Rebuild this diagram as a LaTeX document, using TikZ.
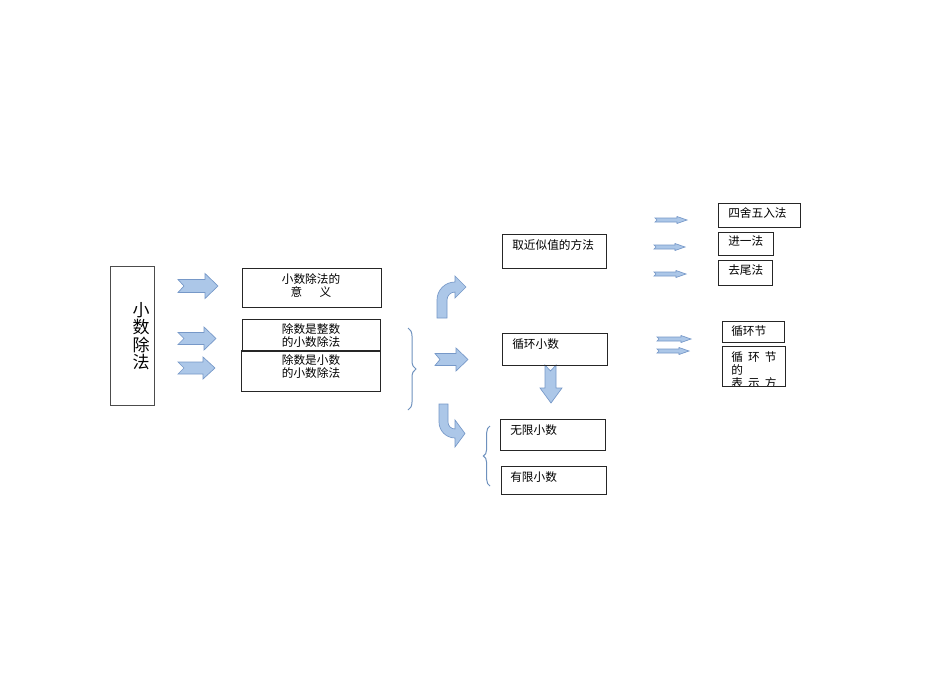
\documentclass[tikz,border=0pt]{standalone}
\usepackage{fontspec}
\setmainfont{Noto Sans CJK SC}
\usetikzlibrary{decorations.pathreplacing}
\definecolor{arfill}{RGB}{172,199,232}
\definecolor{ardraw}{RGB}{118,152,200}
\definecolor{brcol}{RGB}{110,145,190}
\newcommand{\barr}[7]{% x0, yc, L, h, H, a, n
  \filldraw[blockarrow] (#1,{#2-#4}) -- ({#1+#3-#6},{#2-#4}) -- ({#1+#3-#6},{#2-#5}) -- ({#1+#3},#2) -- ({#1+#3-#6},{#2+#5}) -- ({#1+#3-#6},{#2+#4}) -- (#1,{#2+#4}) -- ({#1+#7},#2) -- cycle;}
\begin{document}
\begin{tikzpicture}[x=0.75pt,y=-0.75pt,
  box/.style={draw=black!85, line width=0.75pt, inner sep=0pt, anchor=north west},
  txt/.style={font=\fontsize{8.75pt}{9.75pt}\selectfont, align=center, inner sep=0pt},
  ltxt/.style={font=\fontsize{8.75pt}{9.75pt}\selectfont, anchor=west, inner sep=0pt},
  blockarrow/.style={fill=arfill, draw=ardraw, line width=0.5pt, line join=miter},
  bracestyle/.style={draw=brcol, line width=0.75pt}]
\useasboundingbox (0,0) rectangle (950,672);
\fill[white] (0,0) rectangle (950,672);

% left column
\node[box, draw=black!70, minimum width=33pt, minimum height=104.25pt] (main) at (110,266) {};
\node[font=\fontsize{12.75pt}{13pt}\selectfont, align=center, inner sep=0pt] (maintxt) at (141,336) {小\\数\\除\\法};

\barr{178}{286}{40}{6.5}{12.5}{13}{6}
\barr{178}{338.5}{38}{6}{11.5}{12}{6}
\barr{178}{368}{37}{6}{11}{12}{6}

\node[box, minimum width=104.25pt, minimum height=29.25pt] (b1) at (242,268) {};
\node[txt] (b1t) at (311,285.5) {小数除法的\\意\hspace{1.5em}义};
\node[box, minimum width=103.5pt, minimum height=24pt] (b2) at (242,319) {};
\node[txt] (b2t) at (311,335.5) {除数是整数\\的小数除法};
\node[box, minimum width=104.25pt, minimum height=30.75pt] (b3) at (241,350) {};
\node[txt] (b3t) at (311,367) {除数是小数\\的小数除法};

% right brace
\draw[bracestyle, decorate, decoration={brace, amplitude=6pt}] (408,328) -- (408,410);

% curved arrow up
\filldraw[blockarrow] (437,318) -- (437,300) .. controls (437,290) and (445,282) .. (455,282) -- (455,276) -- (466,287) -- (455,298) -- (455,292) .. controls (450.6,292) and (447,295.6) .. (447,300) -- (447,318) -- cycle;
% straight arrow middle
\barr{435}{359.5}{33}{6}{11.5}{12}{5}
% curved arrow down
\filldraw[blockarrow] (439,404) -- (439,422) .. controls (439,430.8) and (446.2,438) .. (455,438) -- (455,447) -- (465,433.5) -- (455,420) -- (455,429) .. controls (451.1,429) and (448,425.9) .. (448,422) -- (448,404) -- cycle;

% middle boxes
\node[box, minimum width=78pt, minimum height=25.5pt] (approx) at (502,234) {};
\node[ltxt] (approxt) at (512,245) {取近似值的方法};

\filldraw[blockarrow] (545,365) -- (550.5,371) -- (556,365) -- (556,388) -- (562,388) -- (551,403) -- (540,388) -- (545,388) -- cycle;

\node[box, minimum width=78.75pt, minimum height=24pt] (cyc) at (502,333) {};
\node[ltxt] (cyct) at (512,344) {循环小数};

\draw[bracestyle, decorate, decoration={brace, amplitude=5pt}] (490,486) -- (490,426);

\node[box, minimum width=78.75pt, minimum height=23.25pt] (inf) at (500,419) {};
\node[ltxt] (inft) at (510,430) {无限小数};
\node[box, minimum width=78.75pt, minimum height=21pt] (fin) at (501,466) {};
\node[ltxt] (fint) at (510,477) {有限小数};

% right small arrows
\barr{655}{220}{32}{2}{3.5}{10}{2}
\barr{654}{247}{31}{2}{3.5}{10}{2}
\barr{654}{274}{32}{2}{3.5}{10}{2}
\barr{657}{339}{34}{2}{3.5}{10}{2}
\barr{657}{351}{32}{2}{3.5}{10}{2}

% right boxes
\node[box, minimum width=61.5pt, minimum height=18pt] (r1) at (718,203) {};
\node[ltxt] (r1t) at (728,213) {四舍五入法};
\node[box, minimum width=41.25pt, minimum height=17.25pt] (r2) at (718,232) {};
\node[ltxt] (r2t) at (728,241.5) {进一法};
\node[box, minimum width=40.5pt, minimum height=18.75pt] (r3) at (718,260) {};
\node[ltxt] (r3t) at (728,270.5) {去尾法};

\node[box, minimum width=46.5pt, minimum height=15.75pt] (c1) at (722,321) {};
\node[ltxt] (c1t) at (731,331) {循环节};
\node[box, minimum width=47.25pt, minimum height=30pt] (c2) at (722,346) {};
\begin{scope}
\clip (722,346) rectangle (785,385);
\node[ltxt, text width=34pt, align=left] (c2t) at (731,370) {循\hfill 环\hfill 节\\的\\表\hfill 示\hfill 方};
\end{scope}
\end{tikzpicture}
\end{document}
